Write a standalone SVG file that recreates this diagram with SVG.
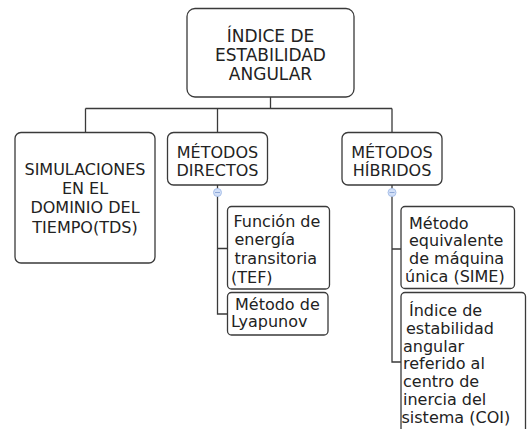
<svg xmlns="http://www.w3.org/2000/svg" width="527" height="429" viewBox="0 0 527 429">
<style>
.box{fill:#ffffff;stroke:#3a3a3a;stroke-width:1.3}
.t{font-family:"DejaVu Sans",Verdana,sans-serif;font-size:16px;fill:#222}
.tr{font-family:"DejaVu Sans",Verdana,sans-serif;font-size:17px;fill:#222}
.c{text-anchor:middle}
.ln{fill:none;stroke:#3a3a3a;stroke-width:1.3}
.tog{fill:#d3e0f7;stroke:#a9c1ea;stroke-width:1}
.minus{stroke:#8fa9d8;stroke-width:1}
</style>
<rect width="527" height="429" fill="#ffffff"/>
<g id="connectors">
<path class="ln" d="M270.5 97 V108.5 M85.5 108.5 H392 M85.5 108.5 V132.5 M217.5 108.5 V132.5 M392 108.5 V132.5"/>
<path class="ln" d="M217.5 185 V314 H227 M217.5 248.5 H227"/>
<path class="ln" d="M392 185 V362 H401 M392 249 H401"/>
<circle class="tog" cx="217.5" cy="192.5" r="4"/>
<path class="minus" d="M215 192.5 H220"/>
<circle class="tog" cx="392" cy="192.5" r="4"/>
<path class="minus" d="M389.5 192.5 H394.5"/>
</g>
<g id="root">
<rect class="box" x="187" y="8.5" width="167" height="88.5" rx="8"/>
<text class="tr c" x="270.5" y="42">ÍNDICE DE</text>
<text class="tr c" x="270.5" y="61">ESTABILIDAD</text>
<text class="tr c" x="270.5" y="80">ANGULAR</text>
</g>
<g id="simulaciones">
<rect class="box" x="15" y="132.5" width="140" height="130.5" rx="6"/>
<text class="t c" x="85" y="175">SIMULACIONES</text>
<text class="t c" x="85" y="194">EN EL</text>
<text class="t c" x="85" y="213">DOMINIO DEL</text>
<text class="t c" x="85" y="232.5">TIEMPO(TDS)</text>
</g>
<g id="directos">
<rect class="box" x="167.5" y="132.5" width="100" height="52.5" rx="6"/>
<text class="t c" x="217.5" y="157.5">MÉTODOS</text>
<text class="t c" x="217.5" y="175.5">DIRECTOS</text>
</g>
<g id="hibridos">
<rect class="box" x="342" y="132.5" width="100" height="52.5" rx="6"/>
<text class="t c" x="392" y="157.5">MÉTODOS</text>
<text class="t c" x="392" y="175.5">HÍBRIDOS</text>
</g>
<g id="tef">
<rect class="box" x="227.5" y="206.5" width="102" height="82.5" rx="4"/>
<text class="t" x="233.5" y="227">Función de</text>
<text class="t" x="234.5" y="245">energía</text>
<text class="t" x="234.5" y="264">transitoria</text>
<text class="t" x="231" y="283">(TEF)</text>
</g>
<g id="lyapunov">
<rect class="box" x="227.5" y="292.5" width="100.5" height="42.5" rx="4"/>
<text class="t" x="235" y="309.5">Método de</text>
<text class="t" x="231" y="326.5">Lyapunov</text>
</g>
<g id="sime">
<rect class="box" x="401" y="206.5" width="113.5" height="82" rx="4"/>
<text class="t" x="409" y="228.5">Método</text>
<text class="t" x="409" y="246">equivalente</text>
<text class="t" x="409" y="263.5">de máquina</text>
<text class="t" x="405" y="281.5">única (SIME)</text>
</g>
<g id="coi">
<rect class="box" x="401" y="292.5" width="124.5" height="150" rx="4"/>
<text class="t" x="409" y="316">Índice de</text>
<text class="t" x="406" y="333.8">estabilidad</text>
<text class="t" x="403" y="351.5">angular</text>
<text class="t" x="403" y="369.3">referido al</text>
<text class="t" x="403" y="387">centro de</text>
<text class="t" x="403" y="404.8">inercia del</text>
<text class="t" x="401.5" y="422.5">sistema (COI)</text>
</g>
</svg>
